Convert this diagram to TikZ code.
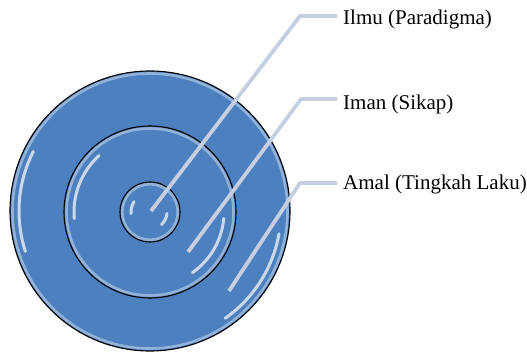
\documentclass[tikz,border=0pt]{standalone}
\usepackage{fontspec}
\setmainfont{Liberation Serif}
\usetikzlibrary{positioning}
\definecolor{ringblue}{RGB}{76,128,190}
\definecolor{leadgray}{RGB}{198,207,225}

\begin{document}
\begin{tikzpicture}[x=1pt, y=-1pt,
    ring/.style={draw=black, line width=1.1pt, fill=ringblue},
    rim/.style={white, opacity=0.4, line width=2.6pt},
    gloss/.style={white, opacity=0.7, line width=3pt, line cap=round},
    leader/.style={leadgray, line width=3.8pt, line join=round},
    label/.style={anchor=base west, inner xsep=6pt, font=\fontsize{21}{25}\selectfont}]
  \useasboundingbox (0,0) rectangle (527,363);
  % rings, outer to inner
  \begin{scope}[shift={(150,211)}, y=1pt]
    \draw[ring] (0,0) circle[radius=140];
    \draw[rim] (0,0) circle[radius=137.5];
    \draw[ring] (0,-1) circle[radius=86];
    \draw[rim] (0,-1) circle[radius=83.5];
    \draw[ring] (0,-1) circle[radius=30];
    \draw[rim] (0,-1) circle[radius=27.8];
    % glossy highlights
    \draw[gloss] (153:131) arc[start angle=153, end angle=198, radius=131];
    \draw[gloss] (-10:131) arc[start angle=-10, end angle=-55, radius=131];
    \draw[gloss] ([shift={(0,-1)}]132:76) arc[start angle=132, end angle=185, radius=76];
    \draw[gloss] ([shift={(0,-1)}]-5:74) arc[start angle=-5, end angle=-55, radius=74];
    \draw[gloss] ([shift={(0,-1)}]147:19) arc[start angle=147, end angle=185, radius=19];
    \draw[gloss] ([shift={(0,-1)}]-5:17) arc[start angle=-5, end angle=-48, radius=17];
  \end{scope}
  % labels
  \node[label] (ilmu) at (337,25) {Ilmu (Paradigma)};
  \node[label] (iman) at (337,110) {Iman (Sikap)};
  \node[label] (amal) at (337,190) {Amal (Tingkah Laku)};
  % leader lines: tip in the ring, knee, then to the label
  \coordinate (ilmutip) at (151,211);
  \coordinate (ilmuknee) at (300,16);
  \coordinate (imantip) at (188,252);
  \coordinate (imanknee) at (301,99);
  \coordinate (amaltip) at (229,291);
  \coordinate (amalknee) at (300,183);
  \foreach \n in {ilmu,iman,amal}
    \draw[leader] (\n tip) -- (\n knee) -- (\n knee -| \n.west);
\end{tikzpicture}
\end{document}
